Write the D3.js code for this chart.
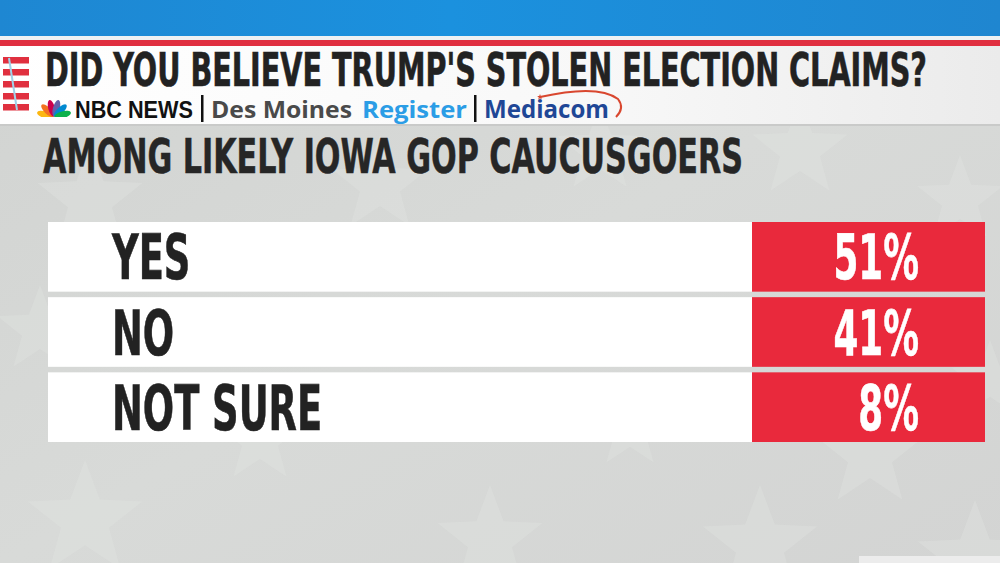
<!DOCTYPE html>
<html>
<head>
<meta charset="utf-8">
<script src="https://cdn.jsdelivr.net/npm/d3@7"></script>
<style>
  html, body { margin: 0; padding: 0; background: #d5d7d5; }
  svg { display: block; }
  .cond { font-family: "Liberation Sans Narrow", "DejaVu Sans Condensed", "Roboto Condensed", "Liberation Sans", Arial, sans-serif; font-weight: 700; font-stretch: condensed; }
</style>
</head>
<body>
<svg id="chart" width="1000" height="563"></svg>
<script>
// ---- data ----
const title = "DID YOU BELIEVE TRUMP'S STOLEN ELECTION CLAIMS?";
const subtitle = "AMONG LIKELY IOWA GOP CAUCUSGOERS";
const categories = ["YES", "NO", "NOT SURE"];
const values = [51, 41, 8];
const sources = ["NBC NEWS", "Des Moines", "Register", "Mediacom"];

const W = 1000, H = 563;
const svg = d3.select("#chart");
const defs = svg.append("defs");

// background gradient
const bg = defs.append("linearGradient").attr("id", "bg").attr("x1", 0).attr("y1", 0).attr("x2", 1).attr("y2", 1);
bg.append("stop").attr("offset", 0).attr("stop-color", "#d1d3d1");
bg.append("stop").attr("offset", 0.5).attr("stop-color", "#d8dad8");
bg.append("stop").attr("offset", 1).attr("stop-color", "#d3d4d3");
svg.append("rect").attr("width", W).attr("height", H).attr("fill", "url(#bg)");

// faint stars
function starPath(cx, cy, r) {
  const pts = [];
  for (let i = 0; i < 10; i++) {
    const rr = i % 2 === 0 ? r : r * 0.42;
    const a = -Math.PI / 2 + i * Math.PI / 5;
    pts.push([cx + rr * Math.cos(a), cy + rr * Math.sin(a)]);
  }
  return d3.line()(pts) + "Z";
}
const stars = [[85, 520, 60], [260, 440, 45], [490, 540, 55], [630, 430, 40], [760, 545, 60], [870, 455, 55], [975, 560, 60],
               [90, 200, 55], [380, 185, 50], [600, 150, 45], [800, 150, 50], [960, 200, 45], [40, 330, 45], [990, 380, 40]];
svg.append("g").selectAll("path").data(stars).join("path")
  .attr("d", d => starPath(d[0], d[1], d[2]))
  .attr("fill", "#e2e4e2").attr("opacity", 0.35);

// bottom-right small white tab
svg.append("rect").attr("x", 859).attr("y", 556).attr("width", 141).attr("height", 7).attr("fill", "#ececec");

// top blue band
const blue = defs.append("linearGradient").attr("id", "blue").attr("x1", 0).attr("y1", 0).attr("x2", 1).attr("y2", 0);
blue.append("stop").attr("offset", 0).attr("stop-color", "#1e87d2");
blue.append("stop").attr("offset", 0.45).attr("stop-color", "#1b91de");
blue.append("stop").attr("offset", 1).attr("stop-color", "#1f86d0");
svg.append("rect").attr("x", 0).attr("y", 0).attr("width", W).attr("height", 36).attr("fill", "url(#blue)");
svg.append("rect").attr("x", 0).attr("y", 36).attr("width", W).attr("height", 4).attr("fill", "#eef1f3");
svg.append("rect").attr("x", 0).attr("y", 40).attr("width", W).attr("height", 6).attr("fill", "#e02f40");

// white header
const hdr = defs.append("linearGradient").attr("id", "hdr").attr("x1", 0).attr("y1", 0).attr("x2", 1).attr("y2", 0);
hdr.append("stop").attr("offset", 0).attr("stop-color", "#ffffff");
hdr.append("stop").attr("offset", 0.6).attr("stop-color", "#f8f8f8");
hdr.append("stop").attr("offset", 1).attr("stop-color", "#ebebeb");
svg.append("rect").attr("x", 0).attr("y", 46).attr("width", W).attr("height", 79).attr("fill", "url(#hdr)");
svg.append("rect").attr("x", 0).attr("y", 124).attr("width", W).attr("height", 2).attr("fill", "#c9cac9");

// flag icon
const flag = svg.append("g");
[57, 69, 81, 93, 104].forEach((yy) => {
  flag.append("rect").attr("x", 3).attr("y", yy).attr("width", 26).attr("height", 6.5).attr("fill", "#e0303f");
});
flag.append("line").attr("x1", 9).attr("y1", 58).attr("x2", 17).attr("y2", 110).attr("stroke", "#9fd3ea").attr("stroke-width", 2);

// title
svg.append("text").attr("class", "cond").attr("x", 45).attr("y", 86)
  .attr("font-size", 47).attr("fill", "#222").attr("stroke", "#222").attr("stroke-width", 0.6)
  .attr("textLength", 882).attr("lengthAdjust", "spacingAndGlyphs")
  .text(title);

// NBC peacock
const peacock = svg.append("g").attr("transform", "translate(54,117)");
const featherColors = ["#fcb711", "#f37021", "#cc004c", "#6460aa", "#0089d0", "#0db14b"];
featherColors.forEach((c, i) => {
  const ang = -75 + i * 30;
  peacock.append("ellipse").attr("cx", 0).attr("cy", -9).attr("rx", 3.4).attr("ry", 8.5)
    .attr("fill", c).attr("transform", `rotate(${ang})`);
});
peacock.append("rect").attr("x", -16).attr("y", 0).attr("width", 32).attr("height", 5).attr("fill", "#ffffff");

// source logos
const logoY = 118;
svg.append("text").attr("x", 75).attr("y", logoY).attr("font-family", "'Liberation Sans', Arial, sans-serif")
  .attr("font-weight", 700).attr("font-size", 23).attr("fill", "#111")
  .attr("textLength", 118).attr("lengthAdjust", "spacingAndGlyphs").text(sources[0]);
svg.append("rect").attr("x", 201).attr("y", 95).attr("width", 2.5).attr("height", 27).attr("fill", "#111");
svg.append("text").attr("x", 211).attr("y", logoY).attr("font-family", "'Open Sans', 'Liberation Sans', sans-serif")
  .attr("font-weight", 700).attr("font-size", 24).attr("fill", "#4a4a4a")
  .attr("textLength", 141).attr("lengthAdjust", "spacingAndGlyphs").text(sources[1]);
svg.append("text").attr("x", 362).attr("y", logoY).attr("font-family", "'Open Sans', 'Liberation Sans', sans-serif")
  .attr("font-weight", 700).attr("font-size", 24).attr("fill", "#2b9de6")
  .attr("textLength", 105).attr("lengthAdjust", "spacingAndGlyphs").text(sources[2]);
svg.append("rect").attr("x", 474).attr("y", 95).attr("width", 2.5).attr("height", 27).attr("fill", "#111");
svg.append("text").attr("x", 484).attr("y", logoY).attr("font-family", "'Open Sans', 'Liberation Sans', sans-serif")
  .attr("font-weight", 700).attr("font-size", 25).attr("fill", "#1f4796")
  .attr("textLength", 125).attr("lengthAdjust", "spacingAndGlyphs").text(sources[3]);
svg.append("path").attr("d", "M540,97 Q598,84 618,99 Q625,108 616,117")
  .attr("fill", "none").attr("stroke", "#d9472f").attr("stroke-width", 2);
svg.append("path").attr("d", starPath(540, 97, 3)).attr("fill", "#d9472f");

// subtitle
svg.append("text").attr("class", "cond").attr("x", 43).attr("y", 173)
  .attr("font-size", 48).attr("fill", "#262626").attr("stroke", "#262626").attr("stroke-width", 0.5)
  .attr("textLength", 700).attr("lengthAdjust", "spacingAndGlyphs")
  .text(subtitle);

// rows
const y = d3.scaleBand().domain(categories).range([222, 442]).paddingInner(0.0733).paddingOuter(0);
const xLeft = 48, xRed = 752, xRight = 985, pctRight = 919, labelX = 112;
const condense = 0.65;

const rows = svg.append("g").selectAll("g").data(categories.map((c, i) => ({ cat: c, val: values[i] })))
  .join("g").attr("transform", d => `translate(0,${y(d.cat)})`);

rows.append("rect").attr("x", xLeft).attr("y", 0).attr("width", xRed - xLeft).attr("height", y.bandwidth()).attr("fill", "#ffffff");
rows.append("rect").attr("x", xRed).attr("y", 0).attr("width", xRight - xRed).attr("height", y.bandwidth()).attr("fill", "#e9293c");

const fs = 63;
const baseline = y.bandwidth() / 2 + 22.5;
rows.append("text").attr("class", "cond label").attr("x", labelX).attr("y", baseline)
  .attr("font-size", fs).attr("fill", "#222").attr("stroke", "#222").attr("stroke-width", 0.6).text(d => d.cat)
  .each(function () {
    const w = this.getComputedTextLength();
    d3.select(this).attr("textLength", w * condense).attr("lengthAdjust", "spacingAndGlyphs");
  });
rows.append("text").attr("class", "cond pct").attr("y", baseline)
  .attr("font-size", fs).attr("fill", "#ffffff").attr("stroke", "#ffffff").attr("stroke-width", 0.6).text(d => d.val + "%")
  .each(function () {
    const w = this.getComputedTextLength() * 0.63;
    d3.select(this).attr("x", pctRight - w).attr("textLength", w).attr("lengthAdjust", "spacingAndGlyphs");
  });
</script>
</body>
</html>
